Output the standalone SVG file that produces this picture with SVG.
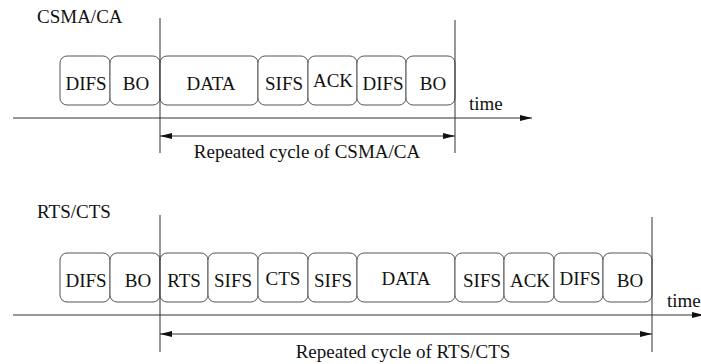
<svg xmlns="http://www.w3.org/2000/svg" width="701" height="364" viewBox="0 0 701 364">
  <style>
    text { font-family: "Liberation Serif", "Times New Roman", serif; font-size: 19px; fill: #111; }
    .lbl { text-anchor: middle; }
    .box { fill: #fff; stroke: #555; stroke-width: 1; }
    .ln { stroke: #333; stroke-width: 1; fill: none; }
  </style>
  <defs>
    <marker id="ah" viewBox="0 0 12 6" refX="12" refY="3" markerWidth="12" markerHeight="6" markerUnits="userSpaceOnUse" orient="auto-start-reverse">
      <path d="M0,0 L12,3 L0,6 z" fill="#111"/>
    </marker>
  </defs>

  <!-- CSMA/CA timeline -->
  <text x="37" y="23">CSMA/CA</text>
  <g id="c-difs1"><rect class="box" x="60" y="56" width="50" height="49" rx="7"/><text class="lbl" x="86" y="90">DIFS</text></g>
  <g id="c-bo1"><rect class="box" x="110" y="56" width="50" height="49" rx="7"/><text class="lbl" x="136" y="90">BO</text></g>
  <g id="c-data"><rect class="box" x="160" y="56" width="98" height="49" rx="7"/><text class="lbl" x="211" y="90">DATA</text></g>
  <g id="c-sifs"><rect class="box" x="258" y="56" width="50" height="49" rx="7"/><text class="lbl" x="284" y="90">SIFS</text></g>
  <g id="c-ack"><rect class="box" x="308" y="56" width="49" height="49" rx="7"/><text class="lbl" x="333" y="87">ACK</text></g>
  <g id="c-difs2"><rect class="box" x="357" y="56" width="49" height="49" rx="7"/><text class="lbl" x="383" y="90">DIFS</text></g>
  <g id="c-bo2"><rect class="box" x="406" y="56" width="49" height="49" rx="7"/><text class="lbl" x="433" y="90">BO</text></g>
  <text x="469" y="110">time</text>
  <text class="lbl" x="307" y="158">Repeated cycle of CSMA/CA</text>

  <!-- RTS/CTS timeline -->
  <text x="37" y="218">RTS/CTS</text>
  <g id="r-difs1"><rect class="box" x="60" y="253" width="50" height="49" rx="7"/><text class="lbl" x="86" y="287">DIFS</text></g>
  <g id="r-bo1"><rect class="box" x="110" y="253" width="50" height="49" rx="7"/><text class="lbl" x="138" y="287">BO</text></g>
  <g id="r-rts"><rect class="box" x="160" y="253" width="48" height="49" rx="7"/><text class="lbl" x="184" y="287">RTS</text></g>
  <g id="r-sifs1"><rect class="box" x="208" y="253" width="50" height="49" rx="7"/><text class="lbl" x="233" y="287">SIFS</text></g>
  <g id="r-cts"><rect class="box" x="258" y="253" width="50" height="49" rx="7"/><text class="lbl" x="283" y="285">CTS</text></g>
  <g id="r-sifs2"><rect class="box" x="308" y="253" width="49" height="49" rx="7"/><text class="lbl" x="333" y="287">SIFS</text></g>
  <g id="r-data"><rect class="box" x="357" y="253" width="98" height="49" rx="7"/><text class="lbl" x="406" y="285">DATA</text></g>
  <g id="r-sifs3"><rect class="box" x="455" y="253" width="49" height="49" rx="7"/><text class="lbl" x="482" y="287">SIFS</text></g>
  <g id="r-ack"><rect class="box" x="504" y="253" width="50" height="49" rx="7"/><text class="lbl" x="530" y="287">ACK</text></g>
  <g id="r-difs2"><rect class="box" x="554" y="253" width="49" height="49" rx="7"/><text class="lbl" x="580" y="285">DIFS</text></g>
  <g id="r-bo2"><rect class="box" x="603" y="253" width="49" height="49" rx="7"/><text class="lbl" x="630" y="287">BO</text></g>
  <text x="667" y="307">time</text>
  <text class="lbl" x="403" y="358">Repeated cycle of RTS/CTS</text>

  <!-- axes, cycle markers and span arrows -->
  <g id="connectors">
    <line class="ln" x1="13" y1="118" x2="532" y2="118" marker-end="url(#ah)"/>
    <line class="ln" x1="160" y1="18" x2="160" y2="153"/>
    <line class="ln" x1="455" y1="20" x2="455" y2="153"/>
    <line class="ln" x1="160" y1="136" x2="455" y2="136" marker-start="url(#ah)" marker-end="url(#ah)"/>

    <line class="ln" x1="13" y1="315" x2="704" y2="315" marker-end="url(#ah)"/>
    <line class="ln" x1="160" y1="215" x2="160" y2="352"/>
    <line class="ln" x1="652" y1="217" x2="652" y2="352"/>
    <line class="ln" x1="160" y1="334" x2="652" y2="334" marker-start="url(#ah)" marker-end="url(#ah)"/>
  </g>
</svg>
